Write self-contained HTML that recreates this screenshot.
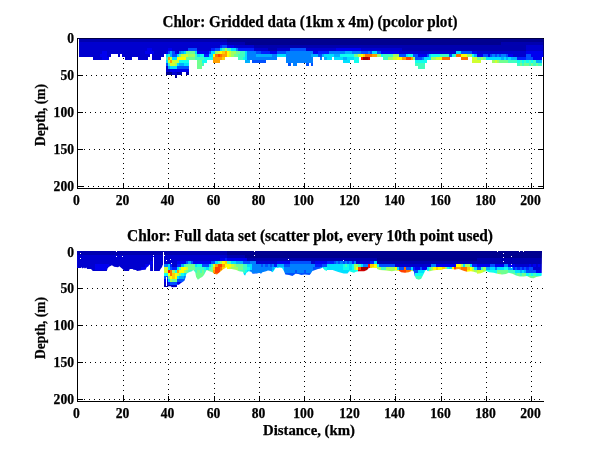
<!DOCTYPE html>
<html><head><meta charset="utf-8"><title>Chlor</title>
<style>
html,body{margin:0;padding:0;background:#fff}
svg{display:block}
text{font-family:"Liberation Serif",serif;font-weight:bold;fill:#000;stroke:#000;stroke-width:0.25px}
.t{font-size:13.6px}
.l{font-size:14.5px}
.yl{font-size:15.5px}
.h{font-size:16.2px}
.g{stroke:#000;stroke-width:1;stroke-dasharray:1 4;fill:none}
.ax{stroke:#000;stroke-width:1;fill:none}
</style></head><body>
<svg width="600" height="451" viewBox="0 0 600 451">
<rect width="600" height="451" fill="#fff"/>
<g shape-rendering="crispEdges">
<line x1="123.5" y1="38" x2="123.5" y2="188" class="g"/>
<line x1="168.5" y1="38" x2="168.5" y2="188" class="g"/>
<line x1="214.5" y1="38" x2="214.5" y2="188" class="g"/>
<line x1="259.5" y1="38" x2="259.5" y2="188" class="g"/>
<line x1="304.5" y1="38" x2="304.5" y2="188" class="g"/>
<line x1="350.5" y1="38" x2="350.5" y2="188" class="g"/>
<line x1="395.5" y1="38" x2="395.5" y2="188" class="g"/>
<line x1="441.5" y1="38" x2="441.5" y2="188" class="g"/>
<line x1="486.5" y1="38" x2="486.5" y2="188" class="g"/>
<line x1="531.5" y1="38" x2="531.5" y2="188" class="g"/>
<line x1="86" y1="75.5" x2="543.5" y2="75.5" class="g"/>
<line x1="85" y1="112.5" x2="543.5" y2="112.5" class="g"/>
<line x1="84" y1="149.5" x2="543.5" y2="149.5" class="g"/>
<line x1="83" y1="186.5" x2="543.5" y2="186.5" class="g"/>
<line x1="123.5" y1="255" x2="123.5" y2="401" class="g"/>
<line x1="168.5" y1="254" x2="168.5" y2="401" class="g"/>
<line x1="214.5" y1="253" x2="214.5" y2="401" class="g"/>
<line x1="259.5" y1="252" x2="259.5" y2="401" class="g"/>
<line x1="304.5" y1="251" x2="304.5" y2="401" class="g"/>
<line x1="350.5" y1="255" x2="350.5" y2="401" class="g"/>
<line x1="395.5" y1="254" x2="395.5" y2="401" class="g"/>
<line x1="441.5" y1="253" x2="441.5" y2="401" class="g"/>
<line x1="486.5" y1="252" x2="486.5" y2="401" class="g"/>
<line x1="531.5" y1="251" x2="531.5" y2="401" class="g"/>
<line x1="87" y1="288.5" x2="543.5" y2="288.5" class="g"/>
<line x1="86" y1="325.5" x2="543.5" y2="325.5" class="g"/>
<line x1="85" y1="362.5" x2="543.5" y2="362.5" class="g"/>
<line x1="84" y1="399.5" x2="543.5" y2="399.5" class="g"/>
</g>
<defs><filter id="sm" x="70" y="30" width="480" height="70" filterUnits="userSpaceOnUse" color-interpolation-filters="sRGB">
<feGaussianBlur stdDeviation="0.7" result="b"/>
<feComponentTransfer in="b" result="o"><feFuncA type="linear" slope="200"/></feComponentTransfer>
<feComposite in="o" in2="SourceAlpha" operator="in"/>
</filter>
<filter id="sm2" x="70" y="245" width="480" height="70" filterUnits="userSpaceOnUse" color-interpolation-filters="sRGB">
<feGaussianBlur stdDeviation="0.7" result="b"/>
<feComponentTransfer in="b" result="o"><feFuncA type="linear" slope="200"/></feComponentTransfer>
<feComposite in="o" in2="SourceAlpha" operator="in"/>
</filter></defs>
<g shape-rendering="crispEdges" id="p1" filter="url(#sm)">
<rect x="77.00" y="38.00" width="150.12" height="4.20" fill="#0000af"/>
<rect x="226.82" y="38.00" width="315.83" height="4.20" fill="#00008f"/>
<rect x="77.00" y="41.90" width="150.12" height="3.30" fill="#0000cf"/>
<rect x="226.82" y="41.90" width="18.46" height="3.30" fill="#0000af"/>
<rect x="244.98" y="41.90" width="256.81" height="3.30" fill="#00008f"/>
<rect x="501.49" y="41.90" width="41.16" height="3.30" fill="#0000af"/>
<rect x="77.00" y="44.90" width="143.31" height="3.20" fill="#0000cf"/>
<rect x="220.01" y="44.90" width="2.57" height="3.20" fill="#0020ff"/>
<rect x="222.28" y="44.90" width="4.84" height="3.20" fill="#0050ff"/>
<rect x="226.82" y="44.90" width="7.11" height="3.20" fill="#0000ef"/>
<rect x="233.63" y="44.90" width="20.73" height="3.20" fill="#0000cf"/>
<rect x="254.06" y="44.90" width="272.70" height="3.20" fill="#0000af"/>
<rect x="526.46" y="44.90" width="16.19" height="3.20" fill="#0000cf"/>
<rect x="77.00" y="47.80" width="70.67" height="3.30" fill="#0000cf"/>
<rect x="147.37" y="47.80" width="4.84" height="3.30" fill="#0000ef"/>
<rect x="151.91" y="47.80" width="16.19" height="3.30" fill="#0000cf"/>
<rect x="167.80" y="47.80" width="4.84" height="3.30" fill="#0000ef"/>
<rect x="172.34" y="47.80" width="16.19" height="3.30" fill="#0000cf"/>
<rect x="188.23" y="47.80" width="9.38" height="3.30" fill="#0050ff"/>
<rect x="197.31" y="47.80" width="13.92" height="3.30" fill="#0000cf"/>
<rect x="210.93" y="47.80" width="4.84" height="3.30" fill="#0020ff"/>
<rect x="215.47" y="47.80" width="4.84" height="3.30" fill="#0050ff"/>
<rect x="220.01" y="47.80" width="2.57" height="3.30" fill="#00e0ff"/>
<rect x="222.28" y="47.80" width="2.57" height="3.30" fill="#40ffbf"/>
<rect x="224.55" y="47.80" width="2.57" height="3.30" fill="#a0ff5f"/>
<rect x="226.82" y="47.80" width="4.84" height="3.30" fill="#40ffbf"/>
<rect x="231.36" y="47.80" width="4.84" height="3.30" fill="#00e0ff"/>
<rect x="235.90" y="47.80" width="2.57" height="3.30" fill="#0080ff"/>
<rect x="238.17" y="47.80" width="16.19" height="3.30" fill="#0020ff"/>
<rect x="254.06" y="47.80" width="13.92" height="3.30" fill="#0000cf"/>
<rect x="267.68" y="47.80" width="9.38" height="3.30" fill="#0000af"/>
<rect x="276.76" y="47.80" width="13.92" height="3.30" fill="#0000cf"/>
<rect x="290.38" y="47.80" width="16.19" height="3.30" fill="#0050ff"/>
<rect x="306.27" y="47.80" width="29.81" height="3.30" fill="#0000cf"/>
<rect x="335.78" y="47.80" width="25.27" height="3.30" fill="#0000ef"/>
<rect x="360.75" y="47.80" width="41.16" height="3.30" fill="#0000cf"/>
<rect x="401.61" y="47.80" width="125.15" height="3.30" fill="#0000af"/>
<rect x="526.46" y="47.80" width="16.19" height="3.30" fill="#0000cf"/>
<rect x="77.00" y="50.80" width="25.27" height="3.30" fill="#0000cf"/>
<rect x="101.97" y="50.80" width="4.84" height="3.30" fill="#0000ef"/>
<rect x="106.51" y="50.80" width="38.89" height="3.30" fill="#0000cf"/>
<rect x="145.10" y="50.80" width="9.38" height="3.30" fill="#0000ef"/>
<rect x="154.18" y="50.80" width="11.65" height="3.30" fill="#0000cf"/>
<rect x="165.53" y="50.80" width="2.57" height="3.30" fill="#0000ef"/>
<rect x="167.80" y="50.80" width="2.57" height="3.30" fill="#0050ff"/>
<rect x="170.07" y="50.80" width="2.57" height="3.30" fill="#00b0ff"/>
<rect x="172.34" y="50.80" width="2.57" height="3.30" fill="#0050ff"/>
<rect x="174.61" y="50.80" width="2.57" height="3.30" fill="#0000ef"/>
<rect x="176.88" y="50.80" width="2.57" height="3.30" fill="#0000cf"/>
<rect x="179.15" y="50.80" width="2.57" height="3.30" fill="#0080ff"/>
<rect x="181.42" y="50.80" width="2.57" height="3.30" fill="#00b0ff"/>
<rect x="183.69" y="50.80" width="2.57" height="3.30" fill="#00e0ff"/>
<rect x="185.96" y="50.80" width="9.38" height="3.30" fill="#70ff8f"/>
<rect x="195.04" y="50.80" width="2.57" height="3.30" fill="#00e0ff"/>
<rect x="197.31" y="50.80" width="11.65" height="3.30" fill="#0000ef"/>
<rect x="208.66" y="50.80" width="2.57" height="3.30" fill="#0050ff"/>
<rect x="210.93" y="50.80" width="4.84" height="3.30" fill="#00e0ff"/>
<rect x="215.47" y="50.80" width="2.57" height="3.30" fill="#a0ff5f"/>
<rect x="217.74" y="50.80" width="2.57" height="3.30" fill="#d0ff2f"/>
<rect x="220.01" y="50.80" width="2.57" height="3.30" fill="#ffff00"/>
<rect x="222.28" y="50.80" width="2.57" height="3.30" fill="#ffd000"/>
<rect x="224.55" y="50.80" width="2.57" height="3.30" fill="#ffa000"/>
<rect x="226.82" y="50.80" width="2.57" height="3.30" fill="#ffff00"/>
<rect x="229.09" y="50.80" width="2.57" height="3.30" fill="#d0ff2f"/>
<rect x="231.36" y="50.80" width="4.84" height="3.30" fill="#a0ff5f"/>
<rect x="235.90" y="50.80" width="4.84" height="3.30" fill="#70ff8f"/>
<rect x="240.44" y="50.80" width="4.84" height="3.30" fill="#40ffbf"/>
<rect x="244.98" y="50.80" width="2.57" height="3.30" fill="#00e0ff"/>
<rect x="247.25" y="50.80" width="9.38" height="3.30" fill="#0080ff"/>
<rect x="256.33" y="50.80" width="4.84" height="3.30" fill="#0050ff"/>
<rect x="260.87" y="50.80" width="9.38" height="3.30" fill="#0020ff"/>
<rect x="269.95" y="50.80" width="7.11" height="3.30" fill="#0000ef"/>
<rect x="276.76" y="50.80" width="9.38" height="3.30" fill="#0050ff"/>
<rect x="285.84" y="50.80" width="27.54" height="3.30" fill="#0080ff"/>
<rect x="313.08" y="50.80" width="4.84" height="3.30" fill="#0000ef"/>
<rect x="317.62" y="50.80" width="11.65" height="3.30" fill="#0020ff"/>
<rect x="328.97" y="50.80" width="16.19" height="3.30" fill="#0080ff"/>
<rect x="344.86" y="50.80" width="7.11" height="3.30" fill="#00b0ff"/>
<rect x="351.67" y="50.80" width="9.38" height="3.30" fill="#0080ff"/>
<rect x="360.75" y="50.80" width="7.11" height="3.30" fill="#0050ff"/>
<rect x="367.56" y="50.80" width="2.57" height="3.30" fill="#0080ff"/>
<rect x="369.83" y="50.80" width="2.57" height="3.30" fill="#0050ff"/>
<rect x="372.10" y="50.80" width="4.84" height="3.30" fill="#00e0ff"/>
<rect x="376.64" y="50.80" width="4.84" height="3.30" fill="#0050ff"/>
<rect x="381.18" y="50.80" width="18.46" height="3.30" fill="#0000ef"/>
<rect x="399.34" y="50.80" width="57.05" height="3.30" fill="#0000cf"/>
<rect x="456.09" y="50.80" width="4.84" height="3.30" fill="#00e0ff"/>
<rect x="460.63" y="50.80" width="11.65" height="3.30" fill="#0050ff"/>
<rect x="471.98" y="50.80" width="4.84" height="3.30" fill="#0000ef"/>
<rect x="476.52" y="50.80" width="50.24" height="3.30" fill="#0000cf"/>
<rect x="526.46" y="50.80" width="16.19" height="3.30" fill="#0000ef"/>
<rect x="77.00" y="53.80" width="23.00" height="3.20" fill="#0000cf"/>
<rect x="99.70" y="53.80" width="7.11" height="3.20" fill="#0000ef"/>
<rect x="106.51" y="53.80" width="4.84" height="3.20" fill="#0000cf"/>
<rect x="117.86" y="53.80" width="2.57" height="3.20" fill="#0000cf"/>
<rect x="122.40" y="53.80" width="27.54" height="3.20" fill="#0000cf"/>
<rect x="151.91" y="53.80" width="11.65" height="3.20" fill="#0000cf"/>
<rect x="165.53" y="53.80" width="2.57" height="3.20" fill="#00e0ff"/>
<rect x="167.80" y="53.80" width="2.57" height="3.20" fill="#40ffbf"/>
<rect x="170.07" y="53.80" width="2.57" height="3.20" fill="#00b0ff"/>
<rect x="172.34" y="53.80" width="4.84" height="3.20" fill="#0050ff"/>
<rect x="176.88" y="53.80" width="2.57" height="3.20" fill="#00e0ff"/>
<rect x="179.15" y="53.80" width="2.57" height="3.20" fill="#70ff8f"/>
<rect x="181.42" y="53.80" width="7.11" height="3.20" fill="#d0ff2f"/>
<rect x="188.23" y="53.80" width="7.11" height="3.20" fill="#a0ff5f"/>
<rect x="195.04" y="53.80" width="2.57" height="3.20" fill="#40ffbf"/>
<rect x="197.31" y="53.80" width="2.57" height="3.20" fill="#00e0ff"/>
<rect x="199.58" y="53.80" width="4.84" height="3.20" fill="#10ffef"/>
<rect x="204.12" y="53.80" width="4.84" height="3.20" fill="#0020ff"/>
<rect x="208.66" y="53.80" width="4.84" height="3.20" fill="#00e0ff"/>
<rect x="213.20" y="53.80" width="2.57" height="3.20" fill="#ffff00"/>
<rect x="215.47" y="53.80" width="2.57" height="3.20" fill="#ff7000"/>
<rect x="217.74" y="53.80" width="2.57" height="3.20" fill="#ff4000"/>
<rect x="220.01" y="53.80" width="2.57" height="3.20" fill="#ff7000"/>
<rect x="222.28" y="53.80" width="4.84" height="3.20" fill="#ffa000"/>
<rect x="226.82" y="53.80" width="2.57" height="3.20" fill="#ffff00"/>
<rect x="229.09" y="53.80" width="2.57" height="3.20" fill="#d0ff2f"/>
<rect x="231.36" y="53.80" width="2.57" height="3.20" fill="#a0ff5f"/>
<rect x="233.63" y="53.80" width="4.84" height="3.20" fill="#70ff8f"/>
<rect x="238.17" y="53.80" width="7.11" height="3.20" fill="#40ffbf"/>
<rect x="244.98" y="53.80" width="2.57" height="3.20" fill="#00e0ff"/>
<rect x="247.25" y="53.80" width="9.38" height="3.20" fill="#0080ff"/>
<rect x="256.33" y="53.80" width="16.19" height="3.20" fill="#00b0ff"/>
<rect x="272.22" y="53.80" width="4.84" height="3.20" fill="#0080ff"/>
<rect x="276.76" y="53.80" width="9.38" height="3.20" fill="#00e0ff"/>
<rect x="285.84" y="53.80" width="25.27" height="3.20" fill="#0080ff"/>
<rect x="310.81" y="53.80" width="7.11" height="3.20" fill="#00b0ff"/>
<rect x="317.62" y="53.80" width="4.84" height="3.20" fill="#0050ff"/>
<rect x="322.16" y="53.80" width="2.57" height="3.20" fill="#00b0ff"/>
<rect x="324.43" y="53.80" width="9.38" height="3.20" fill="#00e0ff"/>
<rect x="333.51" y="53.80" width="7.11" height="3.20" fill="#00b0ff"/>
<rect x="340.32" y="53.80" width="13.92" height="3.20" fill="#10ffef"/>
<rect x="353.94" y="53.80" width="4.84" height="3.20" fill="#70ff8f"/>
<rect x="358.48" y="53.80" width="2.57" height="3.20" fill="#d0ff2f"/>
<rect x="360.75" y="53.80" width="2.57" height="3.20" fill="#ffff00"/>
<rect x="363.02" y="53.80" width="2.57" height="3.20" fill="#ffd000"/>
<rect x="365.29" y="53.80" width="7.11" height="3.20" fill="#ff7000"/>
<rect x="372.10" y="53.80" width="4.84" height="3.20" fill="#ffa000"/>
<rect x="376.64" y="53.80" width="4.84" height="3.20" fill="#a0ff5f"/>
<rect x="381.18" y="53.80" width="2.57" height="3.20" fill="#10ffef"/>
<rect x="383.45" y="53.80" width="9.38" height="3.20" fill="#40ffbf"/>
<rect x="392.53" y="53.80" width="7.11" height="3.20" fill="#a0ff5f"/>
<rect x="399.34" y="53.80" width="7.11" height="3.20" fill="#0050ff"/>
<rect x="406.15" y="53.80" width="2.57" height="3.20" fill="#00e0ff"/>
<rect x="408.42" y="53.80" width="4.84" height="3.20" fill="#10ffef"/>
<rect x="412.96" y="53.80" width="4.84" height="3.20" fill="#0050ff"/>
<rect x="417.50" y="53.80" width="9.38" height="3.20" fill="#0000ef"/>
<rect x="426.58" y="53.80" width="2.57" height="3.20" fill="#0050ff"/>
<rect x="428.85" y="53.80" width="2.57" height="3.20" fill="#00e0ff"/>
<rect x="431.12" y="53.80" width="9.38" height="3.20" fill="#10ffef"/>
<rect x="440.20" y="53.80" width="9.38" height="3.20" fill="#40ffbf"/>
<rect x="449.28" y="53.80" width="2.57" height="3.20" fill="#0050ff"/>
<rect x="451.55" y="53.80" width="2.57" height="3.20" fill="#10ffef"/>
<rect x="453.82" y="53.80" width="2.57" height="3.20" fill="#40ffbf"/>
<rect x="456.09" y="53.80" width="4.84" height="3.20" fill="#ff7000"/>
<rect x="460.63" y="53.80" width="7.11" height="3.20" fill="#ffff00"/>
<rect x="467.44" y="53.80" width="4.84" height="3.20" fill="#a0ff5f"/>
<rect x="471.98" y="53.80" width="2.57" height="3.20" fill="#10ffef"/>
<rect x="474.25" y="53.80" width="2.57" height="3.20" fill="#00b0ff"/>
<rect x="476.52" y="53.80" width="7.11" height="3.20" fill="#0000ef"/>
<rect x="483.33" y="53.80" width="4.84" height="3.20" fill="#0050ff"/>
<rect x="487.87" y="53.80" width="2.57" height="3.20" fill="#0000ef"/>
<rect x="490.14" y="53.80" width="2.57" height="3.20" fill="#0050ff"/>
<rect x="492.41" y="53.80" width="2.57" height="3.20" fill="#0080ff"/>
<rect x="494.68" y="53.80" width="2.57" height="3.20" fill="#0050ff"/>
<rect x="496.95" y="53.80" width="2.57" height="3.20" fill="#0080ff"/>
<rect x="499.22" y="53.80" width="2.57" height="3.20" fill="#0050ff"/>
<rect x="501.49" y="53.80" width="4.84" height="3.20" fill="#0080ff"/>
<rect x="506.03" y="53.80" width="2.57" height="3.20" fill="#0050ff"/>
<rect x="508.30" y="53.80" width="4.84" height="3.20" fill="#0000ef"/>
<rect x="512.84" y="53.80" width="13.92" height="3.20" fill="#0000cf"/>
<rect x="526.46" y="53.80" width="4.84" height="3.20" fill="#0050ff"/>
<rect x="531.00" y="53.80" width="11.65" height="3.20" fill="#0000ef"/>
<rect x="92.89" y="56.70" width="9.38" height="3.30" fill="#0000cf"/>
<rect x="101.97" y="56.70" width="7.11" height="3.30" fill="#0000ef"/>
<rect x="124.67" y="56.70" width="7.11" height="3.30" fill="#0000cf"/>
<rect x="138.29" y="56.70" width="9.38" height="3.30" fill="#0000cf"/>
<rect x="151.91" y="56.70" width="9.38" height="3.30" fill="#0000cf"/>
<rect x="165.53" y="56.70" width="2.57" height="3.30" fill="#40ffbf"/>
<rect x="167.80" y="56.70" width="2.57" height="3.30" fill="#ffa000"/>
<rect x="170.07" y="56.70" width="2.57" height="3.30" fill="#d0ff2f"/>
<rect x="172.34" y="56.70" width="4.84" height="3.30" fill="#00e0ff"/>
<rect x="176.88" y="56.70" width="9.38" height="3.30" fill="#ffff00"/>
<rect x="185.96" y="56.70" width="9.38" height="3.30" fill="#70ff8f"/>
<rect x="195.04" y="56.70" width="9.38" height="3.30" fill="#40ffbf"/>
<rect x="204.12" y="56.70" width="9.38" height="3.30" fill="#10ffef"/>
<rect x="213.20" y="56.70" width="9.38" height="3.30" fill="#ffa000"/>
<rect x="222.28" y="56.70" width="2.57" height="3.30" fill="#ffd000"/>
<rect x="238.17" y="56.70" width="4.84" height="3.30" fill="#40ffbf"/>
<rect x="242.71" y="56.70" width="2.57" height="3.30" fill="#10ffef"/>
<rect x="244.98" y="56.70" width="2.57" height="3.30" fill="#00e0ff"/>
<rect x="247.25" y="56.70" width="29.81" height="3.30" fill="#0080ff"/>
<rect x="285.84" y="56.70" width="27.54" height="3.30" fill="#0080ff"/>
<rect x="319.89" y="56.70" width="2.57" height="3.30" fill="#0080ff"/>
<rect x="324.43" y="56.70" width="2.57" height="3.30" fill="#00b0ff"/>
<rect x="326.70" y="56.70" width="4.84" height="3.30" fill="#00e0ff"/>
<rect x="333.51" y="56.70" width="9.38" height="3.30" fill="#00e0ff"/>
<rect x="342.59" y="56.70" width="4.84" height="3.30" fill="#00b0ff"/>
<rect x="347.13" y="56.70" width="7.11" height="3.30" fill="#00e0ff"/>
<rect x="353.94" y="56.70" width="4.84" height="3.30" fill="#10ffef"/>
<rect x="360.75" y="56.70" width="2.57" height="3.30" fill="#ff1000"/>
<rect x="363.02" y="56.70" width="4.84" height="3.30" fill="#9f0000"/>
<rect x="367.56" y="56.70" width="2.57" height="3.30" fill="#cf0000"/>
<rect x="383.45" y="56.70" width="4.84" height="3.30" fill="#40ffbf"/>
<rect x="387.99" y="56.70" width="4.84" height="3.30" fill="#a0ff5f"/>
<rect x="392.53" y="56.70" width="4.84" height="3.30" fill="#d0ff2f"/>
<rect x="397.07" y="56.70" width="4.84" height="3.30" fill="#ffff00"/>
<rect x="401.61" y="56.70" width="4.84" height="3.30" fill="#ffa000"/>
<rect x="406.15" y="56.70" width="4.84" height="3.30" fill="#ff4000"/>
<rect x="410.69" y="56.70" width="2.57" height="3.30" fill="#ffa000"/>
<rect x="412.96" y="56.70" width="2.57" height="3.30" fill="#a0ff5f"/>
<rect x="415.23" y="56.70" width="7.11" height="3.30" fill="#0050ff"/>
<rect x="422.04" y="56.70" width="2.57" height="3.30" fill="#0080ff"/>
<rect x="424.31" y="56.70" width="7.11" height="3.30" fill="#00e0ff"/>
<rect x="431.12" y="56.70" width="4.84" height="3.30" fill="#a0ff5f"/>
<rect x="435.66" y="56.70" width="4.84" height="3.30" fill="#d0ff2f"/>
<rect x="440.20" y="56.70" width="2.57" height="3.30" fill="#ffff00"/>
<rect x="442.47" y="56.70" width="7.11" height="3.30" fill="#ff7000"/>
<rect x="460.63" y="56.70" width="7.11" height="3.30" fill="#ff7000"/>
<rect x="471.98" y="56.70" width="4.84" height="3.30" fill="#d0ff2f"/>
<rect x="476.52" y="56.70" width="4.84" height="3.30" fill="#70ff8f"/>
<rect x="481.06" y="56.70" width="2.57" height="3.30" fill="#a0ff5f"/>
<rect x="483.33" y="56.70" width="2.57" height="3.30" fill="#70ff8f"/>
<rect x="485.60" y="56.70" width="16.19" height="3.30" fill="#00e0ff"/>
<rect x="501.49" y="56.70" width="2.57" height="3.30" fill="#00b0ff"/>
<rect x="503.76" y="56.70" width="2.57" height="3.30" fill="#00e0ff"/>
<rect x="506.03" y="56.70" width="2.57" height="3.30" fill="#00b0ff"/>
<rect x="508.30" y="56.70" width="2.57" height="3.30" fill="#00e0ff"/>
<rect x="510.57" y="56.70" width="7.11" height="3.30" fill="#00b0ff"/>
<rect x="517.38" y="56.70" width="9.38" height="3.30" fill="#0020ff"/>
<rect x="526.46" y="56.70" width="7.11" height="3.30" fill="#0050ff"/>
<rect x="533.27" y="56.70" width="9.38" height="3.30" fill="#0000ef"/>
<rect x="165.53" y="59.70" width="2.57" height="3.20" fill="#00e0ff"/>
<rect x="167.80" y="59.70" width="2.57" height="3.20" fill="#d0ff2f"/>
<rect x="170.07" y="59.70" width="2.57" height="3.20" fill="#ffa000"/>
<rect x="172.34" y="59.70" width="7.11" height="3.20" fill="#d0ff2f"/>
<rect x="179.15" y="59.70" width="9.38" height="3.20" fill="#10ffef"/>
<rect x="197.31" y="59.70" width="4.84" height="3.20" fill="#70ff8f"/>
<rect x="201.85" y="59.70" width="4.84" height="3.20" fill="#10ffef"/>
<rect x="213.20" y="59.70" width="7.11" height="3.20" fill="#ffa000"/>
<rect x="244.98" y="59.70" width="4.84" height="3.20" fill="#00b0ff"/>
<rect x="251.79" y="59.70" width="13.92" height="3.20" fill="#0050ff"/>
<rect x="285.84" y="59.70" width="27.54" height="3.20" fill="#0080ff"/>
<rect x="342.59" y="59.70" width="7.11" height="3.20" fill="#00e0ff"/>
<rect x="353.94" y="59.70" width="4.84" height="3.20" fill="#10ffef"/>
<rect x="415.23" y="59.70" width="11.65" height="3.20" fill="#10ffef"/>
<rect x="471.98" y="59.70" width="9.38" height="3.20" fill="#d0ff2f"/>
<rect x="492.41" y="59.70" width="2.57" height="3.20" fill="#a0ff5f"/>
<rect x="494.68" y="59.70" width="2.57" height="3.20" fill="#d0ff2f"/>
<rect x="496.95" y="59.70" width="2.57" height="3.20" fill="#a0ff5f"/>
<rect x="499.22" y="59.70" width="9.38" height="3.20" fill="#70ff8f"/>
<rect x="508.30" y="59.70" width="9.38" height="3.20" fill="#40ffbf"/>
<rect x="517.38" y="59.70" width="2.57" height="3.20" fill="#10ffef"/>
<rect x="519.65" y="59.70" width="2.57" height="3.20" fill="#40ffbf"/>
<rect x="521.92" y="59.70" width="2.57" height="3.20" fill="#10ffef"/>
<rect x="524.19" y="59.70" width="2.57" height="3.20" fill="#40ffbf"/>
<rect x="526.46" y="59.70" width="2.57" height="3.20" fill="#10ffef"/>
<rect x="528.73" y="59.70" width="2.57" height="3.20" fill="#40ffbf"/>
<rect x="531.00" y="59.70" width="2.57" height="3.20" fill="#10ffef"/>
<rect x="533.27" y="59.70" width="2.57" height="3.20" fill="#40ffbf"/>
<rect x="535.54" y="59.70" width="7.11" height="3.20" fill="#00b0ff"/>
<rect x="165.53" y="62.60" width="2.57" height="3.30" fill="#0050ff"/>
<rect x="167.80" y="62.60" width="2.57" height="3.30" fill="#40ffbf"/>
<rect x="170.07" y="62.60" width="4.84" height="3.30" fill="#d0ff2f"/>
<rect x="174.61" y="62.60" width="2.57" height="3.30" fill="#a0ff5f"/>
<rect x="176.88" y="62.60" width="2.57" height="3.30" fill="#00e0ff"/>
<rect x="179.15" y="62.60" width="4.84" height="3.30" fill="#00b0ff"/>
<rect x="183.69" y="62.60" width="4.84" height="3.30" fill="#00e0ff"/>
<rect x="197.31" y="62.60" width="4.84" height="3.30" fill="#70ff8f"/>
<rect x="201.85" y="62.60" width="2.57" height="3.30" fill="#40ffbf"/>
<rect x="288.11" y="62.60" width="2.57" height="3.30" fill="#0050ff"/>
<rect x="292.65" y="62.60" width="4.84" height="3.30" fill="#0080ff"/>
<rect x="306.27" y="62.60" width="2.57" height="3.30" fill="#0050ff"/>
<rect x="310.81" y="62.60" width="2.57" height="3.30" fill="#0050ff"/>
<rect x="415.23" y="62.60" width="9.38" height="3.30" fill="#40ffbf"/>
<rect x="517.38" y="62.60" width="2.57" height="3.30" fill="#40ffbf"/>
<rect x="519.65" y="62.60" width="2.57" height="3.30" fill="#70ff8f"/>
<rect x="521.92" y="62.60" width="2.57" height="3.30" fill="#40ffbf"/>
<rect x="524.19" y="62.60" width="4.84" height="3.30" fill="#70ff8f"/>
<rect x="528.73" y="62.60" width="2.57" height="3.30" fill="#40ffbf"/>
<rect x="531.00" y="62.60" width="2.57" height="3.30" fill="#70ff8f"/>
<rect x="533.27" y="62.60" width="2.57" height="3.30" fill="#40ffbf"/>
<rect x="535.54" y="62.60" width="2.57" height="3.30" fill="#70ff8f"/>
<rect x="537.81" y="62.60" width="4.84" height="3.30" fill="#40ffbf"/>
<rect x="165.53" y="65.60" width="2.57" height="3.30" fill="#0000cf"/>
<rect x="167.80" y="65.60" width="2.57" height="3.30" fill="#00b0ff"/>
<rect x="170.07" y="65.60" width="7.11" height="3.30" fill="#00e0ff"/>
<rect x="176.88" y="65.60" width="11.65" height="3.30" fill="#0050ff"/>
<rect x="197.31" y="65.60" width="4.84" height="3.30" fill="#70ff8f"/>
<rect x="417.50" y="65.60" width="7.11" height="3.30" fill="#40ffbf"/>
<rect x="165.53" y="68.60" width="4.84" height="3.20" fill="#0000cf"/>
<rect x="170.07" y="68.60" width="18.46" height="3.20" fill="#0000ef"/>
<rect x="165.53" y="71.50" width="7.11" height="3.30" fill="#00008f"/>
<rect x="172.34" y="71.50" width="4.84" height="3.30" fill="#0000cf"/>
<rect x="176.88" y="71.50" width="4.84" height="3.30" fill="#0000af"/>
<rect x="185.96" y="71.50" width="2.57" height="3.30" fill="#0000af"/>
<rect x="174.61" y="74.50" width="2.57" height="3.20" fill="#00008f"/>
</g>
<clipPath id="c2"><path d="M77 251 H542 L541.7 275.5 L541.0 276.0 L536.3 276.9 L533.5 278.3 L530.7 277.9 L527.0 276.0 L527.0 276.0 L523.6 276.5 L519.8 276.5 L516.1 275.5 L512.4 273.7 L508.7 272.7 L505.9 274.1 L502.1 274.6 L498.4 274.1 L493.8 272.7 L489.1 272.3 L486.3 270.9 L484.4 271.8 L480.7 273.2 L477.0 273.7 L477.0 272.7 L473.6 271.8 L470.8 271.3 L467.0 271.8 L464.2 270.9 L461.5 269.9 L458.7 269.0 L454.9 269.5 L451.2 269.0 L447.5 269.0 L443.8 269.0 L441.0 269.9 L436.3 269.9 L432.6 270.4 L429.8 271.3 L427.0 270.9 L427.0 269.5 L425.4 270.4 L424.0 273.2 L422.6 276.0 L421.2 278.8 L418.9 279.7 L416.1 278.8 L414.7 276.0 L413.8 271.3 L411.5 270.9 L408.7 272.3 L404.9 272.7 L401.2 272.3 L399.3 270.9 L395.6 270.6 L391.9 271.3 L386.3 270.6 L379.8 269.9 L377.0 269.0 L377.0 268.1 L372.6 268.1 L368.9 268.1 L367.0 269.9 L364.2 271.3 L358.7 271.3 L355.9 271.8 L354.0 272.7 L352.1 272.3 L349.3 271.3 L347.5 273.4 L343.8 273.4 L339.1 272.3 L335.4 270.9 L332.6 269.9 L327.0 269.9 L327.0 270.9 L324.5 269.9 L322.6 267.6 L320.8 268.6 L318.0 269.0 L315.2 269.9 L312.4 270.9 L311.0 273.2 L309.6 275.1 L304.9 274.6 L301.2 275.1 L298.4 274.1 L295.6 273.7 L293.8 275.1 L292.4 276.0 L289.1 275.1 L285.4 274.6 L284.0 271.3 L282.1 268.1 L279.8 267.6 L277.0 268.1 L277.0 267.6 L275.4 268.1 L274.0 270.4 L272.6 272.3 L270.8 270.9 L268.0 270.4 L266.1 271.3 L262.4 272.3 L261.0 273.7 L259.6 272.7 L256.8 273.4 L252.6 273.7 L251.2 271.8 L248.4 271.3 L246.1 273.2 L245.2 275.5 L244.2 275.1 L242.8 271.8 L239.1 271.3 L236.3 269.9 L231.7 269.0 L227.0 269.0 L227.0 267.2 L223.6 269.0 L220.8 271.3 L218.4 273.2 L217.0 274.6 L214.2 273.7 L212.4 272.3 L208.7 270.9 L206.8 269.9 L205.4 272.3 L204.0 275.1 L202.1 276.9 L200.3 277.9 L197.9 279.7 L196.1 276.9 L195.2 272.3 L193.3 269.9 L191.9 271.3 L189.1 272.3 L186.3 273.7 L185.8 276.9 L184.4 280.7 L182.6 282.1 L180.3 283.5 L178.9 284.8 L177.0 284.8 L177.0 287.0 L171.7 287.2 L170.8 286.2 L168.4 286.2 L168.0 287.0 L163.6 287.0 L163.5 264.8 L162.8 264.8 L161.9 267.2 L160.5 269.0 L159.6 270.9 L150.1 270.9 L150.0 264.8 L149.3 264.8 L148.4 266.2 L146.6 267.6 L145.6 269.7 L141.9 269.9 L140.5 270.6 L137.2 270.9 L135.8 269.9 L133.5 269.7 L132.6 269.0 L129.8 269.0 L128.9 270.9 L127.0 270.9 L127.0 270.9 L124.5 270.9 L122.6 269.0 L120.8 267.6 L119.4 266.2 L118.0 267.2 L114.2 266.7 L111.9 265.3 L109.1 266.7 L107.7 268.1 L106.8 270.9 L92.8 270.9 L91.0 269.0 L87.2 269.0 L86.3 267.6 L84.9 268.6 L84.0 267.4 L82.6 268.6 L81.7 267.2 L80.7 268.1 L77.0 268.1 Z"/></clipPath>
<g id="p2" clip-path="url(#c2)">
<g shape-rendering="crispEdges" filter="url(#sm2)">
<rect x="77.00" y="251.00" width="150.12" height="4.20" fill="#0000af"/>
<rect x="226.82" y="251.00" width="315.83" height="4.20" fill="#00008f"/>
<rect x="77.00" y="254.90" width="150.12" height="3.30" fill="#0000cf"/>
<rect x="226.82" y="254.90" width="18.46" height="3.30" fill="#0000af"/>
<rect x="244.98" y="254.90" width="297.67" height="3.30" fill="#00008f"/>
<rect x="77.00" y="257.90" width="143.31" height="3.20" fill="#0000cf"/>
<rect x="220.01" y="257.90" width="4.84" height="3.20" fill="#0000ef"/>
<rect x="224.55" y="257.90" width="2.57" height="3.20" fill="#0020ff"/>
<rect x="226.82" y="257.90" width="20.73" height="3.20" fill="#0000ef"/>
<rect x="247.25" y="257.90" width="129.69" height="3.20" fill="#0000af"/>
<rect x="376.64" y="257.90" width="100.18" height="3.20" fill="#00008f"/>
<rect x="476.52" y="257.90" width="66.13" height="3.20" fill="#0000af"/>
<rect x="77.00" y="260.80" width="72.94" height="3.30" fill="#0000cf"/>
<rect x="149.64" y="260.80" width="4.84" height="3.30" fill="#0000ef"/>
<rect x="154.18" y="260.80" width="23.00" height="3.30" fill="#0000cf"/>
<rect x="176.88" y="260.80" width="9.38" height="3.30" fill="#0000ef"/>
<rect x="185.96" y="260.80" width="2.57" height="3.30" fill="#0050ff"/>
<rect x="188.23" y="260.80" width="2.57" height="3.30" fill="#00b0ff"/>
<rect x="190.50" y="260.80" width="2.57" height="3.30" fill="#0050ff"/>
<rect x="192.77" y="260.80" width="18.46" height="3.30" fill="#0000ef"/>
<rect x="210.93" y="260.80" width="4.84" height="3.30" fill="#0050ff"/>
<rect x="215.47" y="260.80" width="2.57" height="3.30" fill="#00e0ff"/>
<rect x="217.74" y="260.80" width="2.57" height="3.30" fill="#40ffbf"/>
<rect x="220.01" y="260.80" width="2.57" height="3.30" fill="#a0ff5f"/>
<rect x="222.28" y="260.80" width="2.57" height="3.30" fill="#ffff00"/>
<rect x="224.55" y="260.80" width="2.57" height="3.30" fill="#ffd000"/>
<rect x="226.82" y="260.80" width="4.84" height="3.30" fill="#40ffbf"/>
<rect x="231.36" y="260.80" width="4.84" height="3.30" fill="#00e0ff"/>
<rect x="235.90" y="260.80" width="7.11" height="3.30" fill="#00b0ff"/>
<rect x="242.71" y="260.80" width="7.11" height="3.30" fill="#0050ff"/>
<rect x="249.52" y="260.80" width="7.11" height="3.30" fill="#0080ff"/>
<rect x="256.33" y="260.80" width="20.73" height="3.30" fill="#0000cf"/>
<rect x="276.76" y="260.80" width="13.92" height="3.30" fill="#0000ef"/>
<rect x="290.38" y="260.80" width="20.73" height="3.30" fill="#0050ff"/>
<rect x="310.81" y="260.80" width="4.84" height="3.30" fill="#0000cf"/>
<rect x="315.35" y="260.80" width="11.65" height="3.30" fill="#0000ef"/>
<rect x="326.70" y="260.80" width="7.11" height="3.30" fill="#0020ff"/>
<rect x="333.51" y="260.80" width="2.57" height="3.30" fill="#0050ff"/>
<rect x="335.78" y="260.80" width="2.57" height="3.30" fill="#0080ff"/>
<rect x="338.05" y="260.80" width="2.57" height="3.30" fill="#0050ff"/>
<rect x="340.32" y="260.80" width="2.57" height="3.30" fill="#0080ff"/>
<rect x="342.59" y="260.80" width="2.57" height="3.30" fill="#0050ff"/>
<rect x="344.86" y="260.80" width="2.57" height="3.30" fill="#0080ff"/>
<rect x="347.13" y="260.80" width="2.57" height="3.30" fill="#0050ff"/>
<rect x="349.40" y="260.80" width="2.57" height="3.30" fill="#0080ff"/>
<rect x="351.67" y="260.80" width="2.57" height="3.30" fill="#0020ff"/>
<rect x="353.94" y="260.80" width="2.57" height="3.30" fill="#0080ff"/>
<rect x="356.21" y="260.80" width="13.92" height="3.30" fill="#0000cf"/>
<rect x="369.83" y="260.80" width="4.84" height="3.30" fill="#0020ff"/>
<rect x="374.37" y="260.80" width="2.57" height="3.30" fill="#00e0ff"/>
<rect x="376.64" y="260.80" width="166.01" height="3.30" fill="#0000af"/>
<rect x="77.00" y="263.80" width="18.46" height="3.30" fill="#0000cf"/>
<rect x="95.16" y="263.80" width="13.92" height="3.30" fill="#0000ef"/>
<rect x="108.78" y="263.80" width="36.62" height="3.30" fill="#0000cf"/>
<rect x="145.10" y="263.80" width="7.11" height="3.30" fill="#0000ef"/>
<rect x="151.91" y="263.80" width="11.65" height="3.30" fill="#0000cf"/>
<rect x="163.26" y="263.80" width="4.84" height="3.30" fill="#0080ff"/>
<rect x="167.80" y="263.80" width="2.57" height="3.30" fill="#00e0ff"/>
<rect x="170.07" y="263.80" width="2.57" height="3.30" fill="#0020ff"/>
<rect x="172.34" y="263.80" width="4.84" height="3.30" fill="#0000cf"/>
<rect x="176.88" y="263.80" width="4.84" height="3.30" fill="#0020ff"/>
<rect x="181.42" y="263.80" width="2.57" height="3.30" fill="#00b0ff"/>
<rect x="183.69" y="263.80" width="2.57" height="3.30" fill="#40ffbf"/>
<rect x="185.96" y="263.80" width="9.38" height="3.30" fill="#70ff8f"/>
<rect x="195.04" y="263.80" width="2.57" height="3.30" fill="#00e0ff"/>
<rect x="197.31" y="263.80" width="4.84" height="3.30" fill="#10ffef"/>
<rect x="201.85" y="263.80" width="7.11" height="3.30" fill="#0050ff"/>
<rect x="208.66" y="263.80" width="2.57" height="3.30" fill="#00e0ff"/>
<rect x="210.93" y="263.80" width="2.57" height="3.30" fill="#40ffbf"/>
<rect x="213.20" y="263.80" width="2.57" height="3.30" fill="#d0ff2f"/>
<rect x="215.47" y="263.80" width="2.57" height="3.30" fill="#ffa000"/>
<rect x="217.74" y="263.80" width="4.84" height="3.30" fill="#ff4000"/>
<rect x="222.28" y="263.80" width="2.57" height="3.30" fill="#ffa000"/>
<rect x="224.55" y="263.80" width="7.11" height="3.30" fill="#ffff00"/>
<rect x="231.36" y="263.80" width="2.57" height="3.30" fill="#d0ff2f"/>
<rect x="233.63" y="263.80" width="2.57" height="3.30" fill="#a0ff5f"/>
<rect x="235.90" y="263.80" width="7.11" height="3.30" fill="#70ff8f"/>
<rect x="242.71" y="263.80" width="4.84" height="3.30" fill="#40ffbf"/>
<rect x="247.25" y="263.80" width="4.84" height="3.30" fill="#00e0ff"/>
<rect x="251.79" y="263.80" width="9.38" height="3.30" fill="#0080ff"/>
<rect x="260.87" y="263.80" width="2.57" height="3.30" fill="#0050ff"/>
<rect x="263.14" y="263.80" width="2.57" height="3.30" fill="#0080ff"/>
<rect x="265.41" y="263.80" width="2.57" height="3.30" fill="#0050ff"/>
<rect x="267.68" y="263.80" width="2.57" height="3.30" fill="#0080ff"/>
<rect x="269.95" y="263.80" width="2.57" height="3.30" fill="#0050ff"/>
<rect x="272.22" y="263.80" width="2.57" height="3.30" fill="#0080ff"/>
<rect x="274.49" y="263.80" width="2.57" height="3.30" fill="#0020ff"/>
<rect x="276.76" y="263.80" width="7.11" height="3.30" fill="#00b0ff"/>
<rect x="283.57" y="263.80" width="7.11" height="3.30" fill="#0050ff"/>
<rect x="290.38" y="263.80" width="25.27" height="3.30" fill="#0080ff"/>
<rect x="315.35" y="263.80" width="7.11" height="3.30" fill="#0020ff"/>
<rect x="322.16" y="263.80" width="4.84" height="3.30" fill="#0050ff"/>
<rect x="326.70" y="263.80" width="16.19" height="3.30" fill="#00e0ff"/>
<rect x="342.59" y="263.80" width="2.57" height="3.30" fill="#10ffef"/>
<rect x="344.86" y="263.80" width="2.57" height="3.30" fill="#40ffbf"/>
<rect x="347.13" y="263.80" width="2.57" height="3.30" fill="#10ffef"/>
<rect x="349.40" y="263.80" width="2.57" height="3.30" fill="#00e0ff"/>
<rect x="351.67" y="263.80" width="2.57" height="3.30" fill="#10ffef"/>
<rect x="353.94" y="263.80" width="4.84" height="3.30" fill="#a0ff5f"/>
<rect x="358.48" y="263.80" width="2.57" height="3.30" fill="#40ffbf"/>
<rect x="360.75" y="263.80" width="2.57" height="3.30" fill="#00e0ff"/>
<rect x="363.02" y="263.80" width="4.84" height="3.30" fill="#0080ff"/>
<rect x="367.56" y="263.80" width="2.57" height="3.30" fill="#ff1000"/>
<rect x="369.83" y="263.80" width="4.84" height="3.30" fill="#ffd000"/>
<rect x="374.37" y="263.80" width="2.57" height="3.30" fill="#ffff00"/>
<rect x="376.64" y="263.80" width="2.57" height="3.30" fill="#10ffef"/>
<rect x="378.91" y="263.80" width="16.19" height="3.30" fill="#0050ff"/>
<rect x="394.80" y="263.80" width="36.62" height="3.30" fill="#0000cf"/>
<rect x="431.12" y="263.80" width="4.84" height="3.30" fill="#0080ff"/>
<rect x="435.66" y="263.80" width="20.73" height="3.30" fill="#0000ef"/>
<rect x="456.09" y="263.80" width="4.84" height="3.30" fill="#ffff00"/>
<rect x="460.63" y="263.80" width="2.57" height="3.30" fill="#a0ff5f"/>
<rect x="462.90" y="263.80" width="2.57" height="3.30" fill="#00e0ff"/>
<rect x="465.17" y="263.80" width="4.84" height="3.30" fill="#a0ff5f"/>
<rect x="469.71" y="263.80" width="2.57" height="3.30" fill="#00e0ff"/>
<rect x="471.98" y="263.80" width="4.84" height="3.30" fill="#0020ff"/>
<rect x="476.52" y="263.80" width="13.92" height="3.30" fill="#0000ef"/>
<rect x="490.14" y="263.80" width="4.84" height="3.30" fill="#0050ff"/>
<rect x="494.68" y="263.80" width="9.38" height="3.30" fill="#0000ef"/>
<rect x="503.76" y="263.80" width="4.84" height="3.30" fill="#0080ff"/>
<rect x="508.30" y="263.80" width="7.11" height="3.30" fill="#0000ef"/>
<rect x="515.11" y="263.80" width="13.92" height="3.30" fill="#0000cf"/>
<rect x="528.73" y="263.80" width="2.57" height="3.30" fill="#0000ef"/>
<rect x="531.00" y="263.80" width="2.57" height="3.30" fill="#0000cf"/>
<rect x="533.27" y="263.80" width="2.57" height="3.30" fill="#0000ef"/>
<rect x="535.54" y="263.80" width="2.57" height="3.30" fill="#0000cf"/>
<rect x="537.81" y="263.80" width="2.57" height="3.30" fill="#0000ef"/>
<rect x="540.08" y="263.80" width="2.57" height="3.30" fill="#0000cf"/>
<rect x="77.00" y="266.80" width="18.46" height="3.20" fill="#0000cf"/>
<rect x="95.16" y="266.80" width="11.65" height="3.20" fill="#0000ef"/>
<rect x="106.51" y="266.80" width="34.35" height="3.20" fill="#0000cf"/>
<rect x="140.56" y="266.80" width="7.11" height="3.20" fill="#0000ef"/>
<rect x="147.37" y="266.80" width="16.19" height="3.20" fill="#0000cf"/>
<rect x="163.26" y="266.80" width="4.84" height="3.20" fill="#d0ff2f"/>
<rect x="167.80" y="266.80" width="2.57" height="3.20" fill="#00e0ff"/>
<rect x="170.07" y="266.80" width="2.57" height="3.20" fill="#0050ff"/>
<rect x="172.34" y="266.80" width="4.84" height="3.20" fill="#0020ff"/>
<rect x="176.88" y="266.80" width="2.57" height="3.20" fill="#00e0ff"/>
<rect x="179.15" y="266.80" width="2.57" height="3.20" fill="#70ff8f"/>
<rect x="181.42" y="266.80" width="4.84" height="3.20" fill="#ffff00"/>
<rect x="185.96" y="266.80" width="2.57" height="3.20" fill="#d0ff2f"/>
<rect x="188.23" y="266.80" width="7.11" height="3.20" fill="#70ff8f"/>
<rect x="195.04" y="266.80" width="9.38" height="3.20" fill="#40ffbf"/>
<rect x="204.12" y="266.80" width="2.57" height="3.20" fill="#10ffef"/>
<rect x="206.39" y="266.80" width="2.57" height="3.20" fill="#00e0ff"/>
<rect x="208.66" y="266.80" width="2.57" height="3.20" fill="#40ffbf"/>
<rect x="210.93" y="266.80" width="2.57" height="3.20" fill="#70ff8f"/>
<rect x="213.20" y="266.80" width="2.57" height="3.20" fill="#ffd000"/>
<rect x="215.47" y="266.80" width="4.84" height="3.20" fill="#ff4000"/>
<rect x="220.01" y="266.80" width="2.57" height="3.20" fill="#ff7000"/>
<rect x="222.28" y="266.80" width="2.57" height="3.20" fill="#ffd000"/>
<rect x="224.55" y="266.80" width="4.84" height="3.20" fill="#ffff00"/>
<rect x="229.09" y="266.80" width="2.57" height="3.20" fill="#d0ff2f"/>
<rect x="231.36" y="266.80" width="7.11" height="3.20" fill="#a0ff5f"/>
<rect x="238.17" y="266.80" width="4.84" height="3.20" fill="#70ff8f"/>
<rect x="242.71" y="266.80" width="4.84" height="3.20" fill="#40ffbf"/>
<rect x="247.25" y="266.80" width="2.57" height="3.20" fill="#10ffef"/>
<rect x="249.52" y="266.80" width="2.57" height="3.20" fill="#00e0ff"/>
<rect x="251.79" y="266.80" width="20.73" height="3.20" fill="#0080ff"/>
<rect x="272.22" y="266.80" width="2.57" height="3.20" fill="#00b0ff"/>
<rect x="274.49" y="266.80" width="9.38" height="3.20" fill="#00e0ff"/>
<rect x="283.57" y="266.80" width="29.81" height="3.20" fill="#0080ff"/>
<rect x="313.08" y="266.80" width="7.11" height="3.20" fill="#0050ff"/>
<rect x="319.89" y="266.80" width="2.57" height="3.20" fill="#0080ff"/>
<rect x="322.16" y="266.80" width="2.57" height="3.20" fill="#00e0ff"/>
<rect x="324.43" y="266.80" width="2.57" height="3.20" fill="#10ffef"/>
<rect x="326.70" y="266.80" width="16.19" height="3.20" fill="#00e0ff"/>
<rect x="342.59" y="266.80" width="7.11" height="3.20" fill="#10ffef"/>
<rect x="349.40" y="266.80" width="2.57" height="3.20" fill="#00e0ff"/>
<rect x="351.67" y="266.80" width="2.57" height="3.20" fill="#10ffef"/>
<rect x="353.94" y="266.80" width="2.57" height="3.20" fill="#a0ff5f"/>
<rect x="356.21" y="266.80" width="2.57" height="3.20" fill="#ffff00"/>
<rect x="358.48" y="266.80" width="2.57" height="3.20" fill="#ff4000"/>
<rect x="360.75" y="266.80" width="7.11" height="3.20" fill="#9f0000"/>
<rect x="367.56" y="266.80" width="2.57" height="3.20" fill="#ff1000"/>
<rect x="369.83" y="266.80" width="2.57" height="3.20" fill="#ffd000"/>
<rect x="372.10" y="266.80" width="4.84" height="3.20" fill="#ffff00"/>
<rect x="376.64" y="266.80" width="4.84" height="3.20" fill="#a0ff5f"/>
<rect x="381.18" y="266.80" width="4.84" height="3.20" fill="#40ffbf"/>
<rect x="385.72" y="266.80" width="9.38" height="3.20" fill="#a0ff5f"/>
<rect x="394.80" y="266.80" width="2.57" height="3.20" fill="#ffff00"/>
<rect x="397.07" y="266.80" width="2.57" height="3.20" fill="#00e0ff"/>
<rect x="399.34" y="266.80" width="4.84" height="3.20" fill="#0050ff"/>
<rect x="403.88" y="266.80" width="2.57" height="3.20" fill="#ff7000"/>
<rect x="406.15" y="266.80" width="4.84" height="3.20" fill="#0050ff"/>
<rect x="410.69" y="266.80" width="2.57" height="3.20" fill="#00e0ff"/>
<rect x="412.96" y="266.80" width="2.57" height="3.20" fill="#0020ff"/>
<rect x="415.23" y="266.80" width="4.84" height="3.20" fill="#0000ef"/>
<rect x="419.77" y="266.80" width="2.57" height="3.20" fill="#0050ff"/>
<rect x="422.04" y="266.80" width="4.84" height="3.20" fill="#0000ef"/>
<rect x="426.58" y="266.80" width="2.57" height="3.20" fill="#00e0ff"/>
<rect x="428.85" y="266.80" width="2.57" height="3.20" fill="#40ffbf"/>
<rect x="431.12" y="266.80" width="2.57" height="3.20" fill="#a0ff5f"/>
<rect x="433.39" y="266.80" width="2.57" height="3.20" fill="#ffff00"/>
<rect x="435.66" y="266.80" width="2.57" height="3.20" fill="#ffd000"/>
<rect x="437.93" y="266.80" width="4.84" height="3.20" fill="#ffff00"/>
<rect x="442.47" y="266.80" width="2.57" height="3.20" fill="#ffd000"/>
<rect x="444.74" y="266.80" width="2.57" height="3.20" fill="#a0ff5f"/>
<rect x="447.01" y="266.80" width="2.57" height="3.20" fill="#10ffef"/>
<rect x="449.28" y="266.80" width="2.57" height="3.20" fill="#00e0ff"/>
<rect x="451.55" y="266.80" width="2.57" height="3.20" fill="#ffff00"/>
<rect x="453.82" y="266.80" width="2.57" height="3.20" fill="#ff4000"/>
<rect x="456.09" y="266.80" width="4.84" height="3.20" fill="#ffa000"/>
<rect x="460.63" y="266.80" width="7.11" height="3.20" fill="#ff7000"/>
<rect x="467.44" y="266.80" width="2.57" height="3.20" fill="#ffd000"/>
<rect x="469.71" y="266.80" width="2.57" height="3.20" fill="#ffff00"/>
<rect x="471.98" y="266.80" width="2.57" height="3.20" fill="#a0ff5f"/>
<rect x="474.25" y="266.80" width="2.57" height="3.20" fill="#00e0ff"/>
<rect x="476.52" y="266.80" width="4.84" height="3.20" fill="#0050ff"/>
<rect x="481.06" y="266.80" width="2.57" height="3.20" fill="#40ffbf"/>
<rect x="483.33" y="266.80" width="2.57" height="3.20" fill="#a0ff5f"/>
<rect x="485.60" y="266.80" width="4.84" height="3.20" fill="#00b0ff"/>
<rect x="490.14" y="266.80" width="4.84" height="3.20" fill="#00e0ff"/>
<rect x="494.68" y="266.80" width="2.57" height="3.20" fill="#0080ff"/>
<rect x="496.95" y="266.80" width="7.11" height="3.20" fill="#00e0ff"/>
<rect x="503.76" y="266.80" width="4.84" height="3.20" fill="#10ffef"/>
<rect x="508.30" y="266.80" width="4.84" height="3.20" fill="#00b0ff"/>
<rect x="512.84" y="266.80" width="2.57" height="3.20" fill="#0020ff"/>
<rect x="515.11" y="266.80" width="2.57" height="3.20" fill="#0050ff"/>
<rect x="517.38" y="266.80" width="2.57" height="3.20" fill="#0020ff"/>
<rect x="519.65" y="266.80" width="2.57" height="3.20" fill="#0050ff"/>
<rect x="521.92" y="266.80" width="2.57" height="3.20" fill="#0020ff"/>
<rect x="524.19" y="266.80" width="2.57" height="3.20" fill="#0050ff"/>
<rect x="526.46" y="266.80" width="2.57" height="3.20" fill="#0020ff"/>
<rect x="528.73" y="266.80" width="4.84" height="3.20" fill="#0050ff"/>
<rect x="533.27" y="266.80" width="9.38" height="3.20" fill="#0000cf"/>
<rect x="77.00" y="269.70" width="86.56" height="3.30" fill="#0000cf"/>
<rect x="163.26" y="269.70" width="4.84" height="3.30" fill="#d0ff2f"/>
<rect x="167.80" y="269.70" width="2.57" height="3.30" fill="#ff1000"/>
<rect x="170.07" y="269.70" width="2.57" height="3.30" fill="#ff7000"/>
<rect x="172.34" y="269.70" width="2.57" height="3.30" fill="#a0ff5f"/>
<rect x="174.61" y="269.70" width="2.57" height="3.30" fill="#10ffef"/>
<rect x="176.88" y="269.70" width="2.57" height="3.30" fill="#ffa000"/>
<rect x="179.15" y="269.70" width="4.84" height="3.30" fill="#ffff00"/>
<rect x="183.69" y="269.70" width="2.57" height="3.30" fill="#a0ff5f"/>
<rect x="185.96" y="269.70" width="2.57" height="3.30" fill="#70ff8f"/>
<rect x="188.23" y="269.70" width="9.38" height="3.30" fill="#40ffbf"/>
<rect x="197.31" y="269.70" width="2.57" height="3.30" fill="#70ff8f"/>
<rect x="199.58" y="269.70" width="2.57" height="3.30" fill="#40ffbf"/>
<rect x="201.85" y="269.70" width="2.57" height="3.30" fill="#70ff8f"/>
<rect x="204.12" y="269.70" width="2.57" height="3.30" fill="#40ffbf"/>
<rect x="206.39" y="269.70" width="7.11" height="3.30" fill="#70ff8f"/>
<rect x="213.20" y="269.70" width="2.57" height="3.30" fill="#ffa000"/>
<rect x="215.47" y="269.70" width="4.84" height="3.30" fill="#ff4000"/>
<rect x="220.01" y="269.70" width="2.57" height="3.30" fill="#ffa000"/>
<rect x="222.28" y="269.70" width="2.57" height="3.30" fill="#ffd000"/>
<rect x="224.55" y="269.70" width="2.57" height="3.30" fill="#ffff00"/>
<rect x="226.82" y="269.70" width="4.84" height="3.30" fill="#d0ff2f"/>
<rect x="231.36" y="269.70" width="7.11" height="3.30" fill="#a0ff5f"/>
<rect x="238.17" y="269.70" width="2.57" height="3.30" fill="#70ff8f"/>
<rect x="240.44" y="269.70" width="4.84" height="3.30" fill="#40ffbf"/>
<rect x="244.98" y="269.70" width="2.57" height="3.30" fill="#10ffef"/>
<rect x="247.25" y="269.70" width="2.57" height="3.30" fill="#00e0ff"/>
<rect x="249.52" y="269.70" width="23.00" height="3.30" fill="#0080ff"/>
<rect x="272.22" y="269.70" width="11.65" height="3.30" fill="#00e0ff"/>
<rect x="283.57" y="269.70" width="11.65" height="3.30" fill="#0080ff"/>
<rect x="294.92" y="269.70" width="2.57" height="3.30" fill="#0050ff"/>
<rect x="297.19" y="269.70" width="7.11" height="3.30" fill="#0080ff"/>
<rect x="304.00" y="269.70" width="2.57" height="3.30" fill="#0050ff"/>
<rect x="306.27" y="269.70" width="7.11" height="3.30" fill="#0080ff"/>
<rect x="313.08" y="269.70" width="7.11" height="3.30" fill="#0050ff"/>
<rect x="319.89" y="269.70" width="2.57" height="3.30" fill="#0080ff"/>
<rect x="322.16" y="269.70" width="4.84" height="3.30" fill="#10ffef"/>
<rect x="326.70" y="269.70" width="23.00" height="3.30" fill="#00e0ff"/>
<rect x="349.40" y="269.70" width="9.38" height="3.30" fill="#10ffef"/>
<rect x="358.48" y="269.70" width="9.38" height="3.30" fill="#cf0000"/>
<rect x="367.56" y="269.70" width="2.57" height="3.30" fill="#ff1000"/>
<rect x="369.83" y="269.70" width="2.57" height="3.30" fill="#ffd000"/>
<rect x="372.10" y="269.70" width="4.84" height="3.30" fill="#ffff00"/>
<rect x="376.64" y="269.70" width="20.73" height="3.30" fill="#a0ff5f"/>
<rect x="397.07" y="269.70" width="2.57" height="3.30" fill="#ffff00"/>
<rect x="399.34" y="269.70" width="7.11" height="3.30" fill="#ff4000"/>
<rect x="406.15" y="269.70" width="4.84" height="3.30" fill="#ff7000"/>
<rect x="410.69" y="269.70" width="2.57" height="3.30" fill="#a0ff5f"/>
<rect x="412.96" y="269.70" width="4.84" height="3.30" fill="#0050ff"/>
<rect x="417.50" y="269.70" width="7.11" height="3.30" fill="#00e0ff"/>
<rect x="424.31" y="269.70" width="4.84" height="3.30" fill="#10ffef"/>
<rect x="428.85" y="269.70" width="4.84" height="3.30" fill="#a0ff5f"/>
<rect x="433.39" y="269.70" width="2.57" height="3.30" fill="#ffff00"/>
<rect x="435.66" y="269.70" width="2.57" height="3.30" fill="#ffd000"/>
<rect x="437.93" y="269.70" width="4.84" height="3.30" fill="#ffff00"/>
<rect x="442.47" y="269.70" width="2.57" height="3.30" fill="#ffd000"/>
<rect x="444.74" y="269.70" width="4.84" height="3.30" fill="#a0ff5f"/>
<rect x="449.28" y="269.70" width="4.84" height="3.30" fill="#ffff00"/>
<rect x="453.82" y="269.70" width="2.57" height="3.30" fill="#ff4000"/>
<rect x="456.09" y="269.70" width="4.84" height="3.30" fill="#ffa000"/>
<rect x="460.63" y="269.70" width="7.11" height="3.30" fill="#ff7000"/>
<rect x="467.44" y="269.70" width="4.84" height="3.30" fill="#ffff00"/>
<rect x="471.98" y="269.70" width="2.57" height="3.30" fill="#d0ff2f"/>
<rect x="474.25" y="269.70" width="2.57" height="3.30" fill="#a0ff5f"/>
<rect x="476.52" y="269.70" width="7.11" height="3.30" fill="#d0ff2f"/>
<rect x="483.33" y="269.70" width="2.57" height="3.30" fill="#a0ff5f"/>
<rect x="485.60" y="269.70" width="11.65" height="3.30" fill="#10ffef"/>
<rect x="496.95" y="269.70" width="11.65" height="3.30" fill="#70ff8f"/>
<rect x="508.30" y="269.70" width="7.11" height="3.30" fill="#40ffbf"/>
<rect x="515.11" y="269.70" width="4.84" height="3.30" fill="#00e0ff"/>
<rect x="519.65" y="269.70" width="2.57" height="3.30" fill="#00b0ff"/>
<rect x="521.92" y="269.70" width="2.57" height="3.30" fill="#00e0ff"/>
<rect x="524.19" y="269.70" width="2.57" height="3.30" fill="#00b0ff"/>
<rect x="526.46" y="269.70" width="9.38" height="3.30" fill="#0050ff"/>
<rect x="535.54" y="269.70" width="7.11" height="3.30" fill="#0000ef"/>
<rect x="77.00" y="272.70" width="86.56" height="3.20" fill="#0000cf"/>
<rect x="163.26" y="272.70" width="4.84" height="3.20" fill="#10ffef"/>
<rect x="167.80" y="272.70" width="2.57" height="3.20" fill="#ffff00"/>
<rect x="170.07" y="272.70" width="2.57" height="3.20" fill="#ff7000"/>
<rect x="172.34" y="272.70" width="2.57" height="3.20" fill="#ffd000"/>
<rect x="174.61" y="272.70" width="2.57" height="3.20" fill="#ffff00"/>
<rect x="176.88" y="272.70" width="2.57" height="3.20" fill="#d0ff2f"/>
<rect x="179.15" y="272.70" width="2.57" height="3.20" fill="#70ff8f"/>
<rect x="181.42" y="272.70" width="2.57" height="3.20" fill="#10ffef"/>
<rect x="183.69" y="272.70" width="4.84" height="3.20" fill="#00e0ff"/>
<rect x="188.23" y="272.70" width="7.11" height="3.20" fill="#40ffbf"/>
<rect x="195.04" y="272.70" width="9.38" height="3.20" fill="#70ff8f"/>
<rect x="204.12" y="272.70" width="2.57" height="3.20" fill="#40ffbf"/>
<rect x="206.39" y="272.70" width="7.11" height="3.20" fill="#70ff8f"/>
<rect x="213.20" y="272.70" width="7.11" height="3.20" fill="#ff7000"/>
<rect x="220.01" y="272.70" width="2.57" height="3.20" fill="#ffa000"/>
<rect x="222.28" y="272.70" width="2.57" height="3.20" fill="#ffd000"/>
<rect x="224.55" y="272.70" width="2.57" height="3.20" fill="#ffff00"/>
<rect x="226.82" y="272.70" width="4.84" height="3.20" fill="#d0ff2f"/>
<rect x="231.36" y="272.70" width="4.84" height="3.20" fill="#a0ff5f"/>
<rect x="235.90" y="272.70" width="7.11" height="3.20" fill="#40ffbf"/>
<rect x="242.71" y="272.70" width="4.84" height="3.20" fill="#00e0ff"/>
<rect x="247.25" y="272.70" width="4.84" height="3.20" fill="#0080ff"/>
<rect x="251.79" y="272.70" width="9.38" height="3.20" fill="#0050ff"/>
<rect x="260.87" y="272.70" width="11.65" height="3.20" fill="#0080ff"/>
<rect x="272.22" y="272.70" width="11.65" height="3.20" fill="#00e0ff"/>
<rect x="283.57" y="272.70" width="36.62" height="3.20" fill="#0050ff"/>
<rect x="319.89" y="272.70" width="2.57" height="3.20" fill="#0080ff"/>
<rect x="322.16" y="272.70" width="4.84" height="3.20" fill="#10ffef"/>
<rect x="326.70" y="272.70" width="23.00" height="3.20" fill="#00e0ff"/>
<rect x="349.40" y="272.70" width="9.38" height="3.20" fill="#10ffef"/>
<rect x="358.48" y="272.70" width="9.38" height="3.20" fill="#cf0000"/>
<rect x="367.56" y="272.70" width="2.57" height="3.20" fill="#ff1000"/>
<rect x="369.83" y="272.70" width="2.57" height="3.20" fill="#ffd000"/>
<rect x="372.10" y="272.70" width="4.84" height="3.20" fill="#ffff00"/>
<rect x="376.64" y="272.70" width="20.73" height="3.20" fill="#a0ff5f"/>
<rect x="397.07" y="272.70" width="2.57" height="3.20" fill="#ffff00"/>
<rect x="399.34" y="272.70" width="7.11" height="3.20" fill="#ff4000"/>
<rect x="406.15" y="272.70" width="4.84" height="3.20" fill="#ff7000"/>
<rect x="410.69" y="272.70" width="2.57" height="3.20" fill="#a0ff5f"/>
<rect x="412.96" y="272.70" width="2.57" height="3.20" fill="#0050ff"/>
<rect x="415.23" y="272.70" width="13.92" height="3.20" fill="#10ffef"/>
<rect x="428.85" y="272.70" width="4.84" height="3.20" fill="#a0ff5f"/>
<rect x="433.39" y="272.70" width="2.57" height="3.20" fill="#ffff00"/>
<rect x="435.66" y="272.70" width="2.57" height="3.20" fill="#ffd000"/>
<rect x="437.93" y="272.70" width="4.84" height="3.20" fill="#ffff00"/>
<rect x="442.47" y="272.70" width="2.57" height="3.20" fill="#ffd000"/>
<rect x="444.74" y="272.70" width="4.84" height="3.20" fill="#a0ff5f"/>
<rect x="449.28" y="272.70" width="4.84" height="3.20" fill="#ffff00"/>
<rect x="453.82" y="272.70" width="2.57" height="3.20" fill="#ff4000"/>
<rect x="456.09" y="272.70" width="4.84" height="3.20" fill="#ffa000"/>
<rect x="460.63" y="272.70" width="7.11" height="3.20" fill="#ff7000"/>
<rect x="467.44" y="272.70" width="4.84" height="3.20" fill="#ffff00"/>
<rect x="471.98" y="272.70" width="2.57" height="3.20" fill="#d0ff2f"/>
<rect x="474.25" y="272.70" width="2.57" height="3.20" fill="#a0ff5f"/>
<rect x="476.52" y="272.70" width="7.11" height="3.20" fill="#d0ff2f"/>
<rect x="483.33" y="272.70" width="2.57" height="3.20" fill="#a0ff5f"/>
<rect x="485.60" y="272.70" width="11.65" height="3.20" fill="#10ffef"/>
<rect x="496.95" y="272.70" width="4.84" height="3.20" fill="#a0ff5f"/>
<rect x="501.49" y="272.70" width="13.92" height="3.20" fill="#70ff8f"/>
<rect x="515.11" y="272.70" width="2.57" height="3.20" fill="#40ffbf"/>
<rect x="517.38" y="272.70" width="2.57" height="3.20" fill="#70ff8f"/>
<rect x="519.65" y="272.70" width="2.57" height="3.20" fill="#40ffbf"/>
<rect x="521.92" y="272.70" width="4.84" height="3.20" fill="#70ff8f"/>
<rect x="526.46" y="272.70" width="2.57" height="3.20" fill="#10ffef"/>
<rect x="528.73" y="272.70" width="2.57" height="3.20" fill="#40ffbf"/>
<rect x="531.00" y="272.70" width="2.57" height="3.20" fill="#10ffef"/>
<rect x="533.27" y="272.70" width="2.57" height="3.20" fill="#40ffbf"/>
<rect x="535.54" y="272.70" width="7.11" height="3.20" fill="#10ffef"/>
<rect x="77.00" y="275.60" width="86.56" height="3.30" fill="#0000cf"/>
<rect x="163.26" y="275.60" width="4.84" height="3.30" fill="#0050ff"/>
<rect x="167.80" y="275.60" width="2.57" height="3.30" fill="#70ff8f"/>
<rect x="170.07" y="275.60" width="2.57" height="3.30" fill="#ffff00"/>
<rect x="172.34" y="275.60" width="2.57" height="3.30" fill="#ffd000"/>
<rect x="174.61" y="275.60" width="2.57" height="3.30" fill="#ffff00"/>
<rect x="176.88" y="275.60" width="2.57" height="3.30" fill="#00e0ff"/>
<rect x="179.15" y="275.60" width="4.84" height="3.30" fill="#00b0ff"/>
<rect x="183.69" y="275.60" width="4.84" height="3.30" fill="#0080ff"/>
<rect x="188.23" y="275.60" width="7.11" height="3.30" fill="#40ffbf"/>
<rect x="195.04" y="275.60" width="7.11" height="3.30" fill="#70ff8f"/>
<rect x="201.85" y="275.60" width="4.84" height="3.30" fill="#40ffbf"/>
<rect x="206.39" y="275.60" width="7.11" height="3.30" fill="#70ff8f"/>
<rect x="213.20" y="275.60" width="7.11" height="3.30" fill="#ff7000"/>
<rect x="220.01" y="275.60" width="2.57" height="3.30" fill="#ffa000"/>
<rect x="222.28" y="275.60" width="2.57" height="3.30" fill="#ffd000"/>
<rect x="226.82" y="275.60" width="4.84" height="3.30" fill="#d0ff2f"/>
<rect x="231.36" y="275.60" width="4.84" height="3.30" fill="#a0ff5f"/>
<rect x="235.90" y="275.60" width="7.11" height="3.30" fill="#40ffbf"/>
<rect x="242.71" y="275.60" width="4.84" height="3.30" fill="#00e0ff"/>
<rect x="247.25" y="275.60" width="4.84" height="3.30" fill="#0080ff"/>
<rect x="251.79" y="275.60" width="9.38" height="3.30" fill="#0050ff"/>
<rect x="260.87" y="275.60" width="11.65" height="3.30" fill="#0080ff"/>
<rect x="272.22" y="275.60" width="11.65" height="3.30" fill="#00e0ff"/>
<rect x="283.57" y="275.60" width="36.62" height="3.30" fill="#0050ff"/>
<rect x="319.89" y="275.60" width="2.57" height="3.30" fill="#0080ff"/>
<rect x="322.16" y="275.60" width="4.84" height="3.30" fill="#10ffef"/>
<rect x="326.70" y="275.60" width="23.00" height="3.30" fill="#00e0ff"/>
<rect x="349.40" y="275.60" width="9.38" height="3.30" fill="#10ffef"/>
<rect x="358.48" y="275.60" width="9.38" height="3.30" fill="#cf0000"/>
<rect x="376.64" y="275.60" width="20.73" height="3.30" fill="#a0ff5f"/>
<rect x="397.07" y="275.60" width="2.57" height="3.30" fill="#ffff00"/>
<rect x="399.34" y="275.60" width="7.11" height="3.30" fill="#ff4000"/>
<rect x="406.15" y="275.60" width="4.84" height="3.30" fill="#ff7000"/>
<rect x="410.69" y="275.60" width="2.57" height="3.30" fill="#a0ff5f"/>
<rect x="412.96" y="275.60" width="2.57" height="3.30" fill="#0050ff"/>
<rect x="415.23" y="275.60" width="7.11" height="3.30" fill="#40ffbf"/>
<rect x="422.04" y="275.60" width="7.11" height="3.30" fill="#10ffef"/>
<rect x="428.85" y="275.60" width="4.84" height="3.30" fill="#a0ff5f"/>
<rect x="433.39" y="275.60" width="2.57" height="3.30" fill="#ffff00"/>
<rect x="435.66" y="275.60" width="2.57" height="3.30" fill="#ffd000"/>
<rect x="437.93" y="275.60" width="4.84" height="3.30" fill="#ffff00"/>
<rect x="442.47" y="275.60" width="2.57" height="3.30" fill="#ffd000"/>
<rect x="444.74" y="275.60" width="4.84" height="3.30" fill="#a0ff5f"/>
<rect x="449.28" y="275.60" width="4.84" height="3.30" fill="#ffff00"/>
<rect x="453.82" y="275.60" width="2.57" height="3.30" fill="#ff4000"/>
<rect x="456.09" y="275.60" width="4.84" height="3.30" fill="#ffa000"/>
<rect x="460.63" y="275.60" width="7.11" height="3.30" fill="#ff7000"/>
<rect x="467.44" y="275.60" width="4.84" height="3.30" fill="#ffff00"/>
<rect x="471.98" y="275.60" width="2.57" height="3.30" fill="#d0ff2f"/>
<rect x="474.25" y="275.60" width="2.57" height="3.30" fill="#a0ff5f"/>
<rect x="476.52" y="275.60" width="7.11" height="3.30" fill="#d0ff2f"/>
<rect x="483.33" y="275.60" width="2.57" height="3.30" fill="#a0ff5f"/>
<rect x="485.60" y="275.60" width="11.65" height="3.30" fill="#10ffef"/>
<rect x="496.95" y="275.60" width="4.84" height="3.30" fill="#a0ff5f"/>
<rect x="501.49" y="275.60" width="41.16" height="3.30" fill="#70ff8f"/>
<rect x="163.26" y="278.60" width="4.84" height="3.30" fill="#0000ef"/>
<rect x="167.80" y="278.60" width="2.57" height="3.30" fill="#00e0ff"/>
<rect x="170.07" y="278.60" width="2.57" height="3.30" fill="#a0ff5f"/>
<rect x="172.34" y="278.60" width="4.84" height="3.30" fill="#70ff8f"/>
<rect x="176.88" y="278.60" width="11.65" height="3.30" fill="#0050ff"/>
<rect x="195.04" y="278.60" width="7.11" height="3.30" fill="#70ff8f"/>
<rect x="201.85" y="278.60" width="4.84" height="3.30" fill="#40ffbf"/>
<rect x="206.39" y="278.60" width="2.57" height="3.30" fill="#70ff8f"/>
<rect x="213.20" y="278.60" width="7.11" height="3.30" fill="#ff7000"/>
<rect x="235.90" y="278.60" width="7.11" height="3.30" fill="#40ffbf"/>
<rect x="242.71" y="278.60" width="4.84" height="3.30" fill="#00e0ff"/>
<rect x="247.25" y="278.60" width="4.84" height="3.30" fill="#0080ff"/>
<rect x="251.79" y="278.60" width="9.38" height="3.30" fill="#0050ff"/>
<rect x="260.87" y="278.60" width="11.65" height="3.30" fill="#0080ff"/>
<rect x="283.57" y="278.60" width="29.81" height="3.30" fill="#0050ff"/>
<rect x="322.16" y="278.60" width="4.84" height="3.30" fill="#10ffef"/>
<rect x="331.24" y="278.60" width="18.46" height="3.30" fill="#00e0ff"/>
<rect x="349.40" y="278.60" width="9.38" height="3.30" fill="#10ffef"/>
<rect x="376.64" y="278.60" width="20.73" height="3.30" fill="#a0ff5f"/>
<rect x="397.07" y="278.60" width="2.57" height="3.30" fill="#ffff00"/>
<rect x="399.34" y="278.60" width="7.11" height="3.30" fill="#ff4000"/>
<rect x="406.15" y="278.60" width="4.84" height="3.30" fill="#ff7000"/>
<rect x="410.69" y="278.60" width="2.57" height="3.30" fill="#a0ff5f"/>
<rect x="412.96" y="278.60" width="2.57" height="3.30" fill="#0050ff"/>
<rect x="415.23" y="278.60" width="2.57" height="3.30" fill="#40ffbf"/>
<rect x="417.50" y="278.60" width="4.84" height="3.30" fill="#70ff8f"/>
<rect x="422.04" y="278.60" width="2.57" height="3.30" fill="#40ffbf"/>
<rect x="424.31" y="278.60" width="4.84" height="3.30" fill="#10ffef"/>
<rect x="428.85" y="278.60" width="4.84" height="3.30" fill="#a0ff5f"/>
<rect x="460.63" y="278.60" width="7.11" height="3.30" fill="#ff7000"/>
<rect x="467.44" y="278.60" width="4.84" height="3.30" fill="#ffff00"/>
<rect x="471.98" y="278.60" width="2.57" height="3.30" fill="#d0ff2f"/>
<rect x="474.25" y="278.60" width="2.57" height="3.30" fill="#a0ff5f"/>
<rect x="476.52" y="278.60" width="7.11" height="3.30" fill="#d0ff2f"/>
<rect x="483.33" y="278.60" width="2.57" height="3.30" fill="#a0ff5f"/>
<rect x="485.60" y="278.60" width="11.65" height="3.30" fill="#10ffef"/>
<rect x="496.95" y="278.60" width="4.84" height="3.30" fill="#a0ff5f"/>
<rect x="501.49" y="278.60" width="41.16" height="3.30" fill="#70ff8f"/>
<rect x="163.26" y="281.60" width="4.84" height="3.20" fill="#0000cf"/>
<rect x="167.80" y="281.60" width="2.57" height="3.20" fill="#0020ff"/>
<rect x="170.07" y="281.60" width="7.11" height="3.20" fill="#0050ff"/>
<rect x="176.88" y="281.60" width="4.84" height="3.20" fill="#0000ef"/>
<rect x="181.42" y="281.60" width="4.84" height="3.20" fill="#0020ff"/>
<rect x="185.96" y="281.60" width="2.57" height="3.20" fill="#0050ff"/>
<rect x="195.04" y="281.60" width="7.11" height="3.20" fill="#70ff8f"/>
<rect x="201.85" y="281.60" width="2.57" height="3.20" fill="#40ffbf"/>
<rect x="242.71" y="281.60" width="4.84" height="3.20" fill="#00e0ff"/>
<rect x="251.79" y="281.60" width="9.38" height="3.20" fill="#0050ff"/>
<rect x="285.84" y="281.60" width="25.27" height="3.20" fill="#0050ff"/>
<rect x="338.05" y="281.60" width="9.38" height="3.20" fill="#00e0ff"/>
<rect x="415.23" y="281.60" width="2.57" height="3.20" fill="#40ffbf"/>
<rect x="417.50" y="281.60" width="4.84" height="3.20" fill="#70ff8f"/>
<rect x="422.04" y="281.60" width="2.57" height="3.20" fill="#40ffbf"/>
<rect x="496.95" y="281.60" width="4.84" height="3.20" fill="#a0ff5f"/>
<rect x="501.49" y="281.60" width="41.16" height="3.20" fill="#70ff8f"/>
<rect x="163.26" y="284.50" width="7.11" height="3.30" fill="#0000af"/>
<rect x="170.07" y="284.50" width="13.92" height="3.30" fill="#0000cf"/>
<rect x="183.69" y="284.50" width="2.57" height="3.30" fill="#0020ff"/>
<rect x="185.96" y="284.50" width="2.57" height="3.30" fill="#0050ff"/>
<rect x="195.04" y="284.50" width="7.11" height="3.30" fill="#70ff8f"/>
<rect x="415.23" y="284.50" width="2.57" height="3.30" fill="#40ffbf"/>
<rect x="417.50" y="284.50" width="4.84" height="3.30" fill="#70ff8f"/>
<rect x="422.04" y="284.50" width="2.57" height="3.30" fill="#40ffbf"/>
<rect x="515.11" y="284.50" width="27.54" height="3.30" fill="#70ff8f"/>
<rect x="163.26" y="287.50" width="9.38" height="3.20" fill="#00008f"/>
<rect x="172.34" y="287.50" width="9.38" height="3.20" fill="#0000af"/>
<rect x="181.42" y="287.50" width="2.57" height="3.20" fill="#0000cf"/>
<rect x="183.69" y="287.50" width="2.57" height="3.20" fill="#0020ff"/>
<rect x="417.50" y="287.50" width="4.84" height="3.20" fill="#70ff8f"/>
<rect x="163.26" y="290.40" width="13.92" height="3.30" fill="#00008f"/>
<rect x="176.88" y="290.40" width="4.84" height="3.30" fill="#0000af"/>
<rect x="181.42" y="290.40" width="2.57" height="3.30" fill="#0000cf"/>
<rect x="163.26" y="293.40" width="13.92" height="3.30" fill="#00008f"/>
<rect x="176.88" y="293.40" width="4.84" height="3.30" fill="#0000af"/>
<rect x="163.26" y="296.40" width="13.92" height="3.20" fill="#00008f"/>
</g>
</g>
<g shape-rendering="crispEdges">
<rect x="80" y="253" width="1" height="1" fill="#fff"/>
<rect x="80" y="258" width="1" height="1" fill="#fff"/>
<rect x="116" y="256" width="1" height="1" fill="#fff"/>
<rect x="122" y="256" width="1" height="1" fill="#fff"/>
<rect x="116" y="251" width="1" height="1" fill="#fff"/>
<rect x="164" y="255" width="1" height="1" fill="#fff"/>
<rect x="166" y="260" width="1" height="1" fill="#fff"/>
<rect x="170" y="259" width="1" height="1" fill="#fff"/>
<rect x="171" y="263" width="1" height="1" fill="#fff"/>
<rect x="153" y="255" width="1" height="1" fill="#fff"/>
<rect x="254" y="255" width="1" height="1" fill="#fff"/>
<rect x="254" y="251" width="1" height="1" fill="#fff"/>
<rect x="288" y="259" width="1" height="1" fill="#fff"/>
<rect x="343" y="260" width="1" height="1" fill="#fff"/>
<rect x="503" y="253" width="1" height="1" fill="#fff"/>
<rect x="503" y="257" width="1" height="1" fill="#fff"/>
<rect x="503" y="261" width="1" height="1" fill="#fff"/>
<rect x="511" y="256" width="1" height="1" fill="#fff"/>
<rect x="511" y="264" width="1" height="1" fill="#fff"/>
<rect x="511" y="267" width="1" height="1" fill="#fff"/>
<rect x="497" y="251" width="1" height="1" fill="#fff"/>
<rect x="519" y="251" width="1" height="1" fill="#fff"/>
<rect x="523" y="251" width="1" height="1" fill="#fff"/>
<rect x="153" y="257" width="1" height="14" fill="#fff"/>
<rect x="163" y="252" width="1" height="36" fill="#fff"/>
<rect x="166" y="277" width="1" height="9" fill="#fff"/>
</g>
<g shape-rendering="crispEdges">
<rect x="78" y="39" width="1" height="18" fill="#fff"/>
<rect x="542" y="57" width="1" height="9" fill="#fff"/>
<rect x="77" y="38" width="466" height="1" fill="#000048"/>
<path d="M77.5 38V188.5H543.5V38" class="ax"/>
<text x="76.5" y="204.5" class="t" text-anchor="middle">0</text>
<line x1="123.5" y1="188" x2="123.5" y2="183" class="ax"/>
<text x="122.5" y="204.5" class="t" text-anchor="middle">20</text>
<line x1="168.5" y1="188" x2="168.5" y2="183" class="ax"/>
<text x="167.5" y="204.5" class="t" text-anchor="middle">40</text>
<line x1="214.5" y1="188" x2="214.5" y2="183" class="ax"/>
<text x="213.5" y="204.5" class="t" text-anchor="middle">60</text>
<line x1="259.5" y1="188" x2="259.5" y2="183" class="ax"/>
<text x="258.5" y="204.5" class="t" text-anchor="middle">80</text>
<line x1="304.5" y1="188" x2="304.5" y2="183" class="ax"/>
<text x="303.5" y="204.5" class="t" text-anchor="middle">100</text>
<line x1="350.5" y1="188" x2="350.5" y2="183" class="ax"/>
<text x="349.5" y="204.5" class="t" text-anchor="middle">120</text>
<line x1="395.5" y1="188" x2="395.5" y2="183" class="ax"/>
<text x="394.5" y="204.5" class="t" text-anchor="middle">140</text>
<line x1="441.5" y1="188" x2="441.5" y2="183" class="ax"/>
<text x="440.5" y="204.5" class="t" text-anchor="middle">160</text>
<line x1="486.5" y1="188" x2="486.5" y2="183" class="ax"/>
<text x="485.5" y="204.5" class="t" text-anchor="middle">180</text>
<line x1="531.5" y1="188" x2="531.5" y2="183" class="ax"/>
<text x="530.5" y="204.5" class="t" text-anchor="middle">200</text>
<text x="74" y="42.7" class="t" text-anchor="end">0</text>
<line x1="77" y1="75.5" x2="83" y2="75.5" class="ax"/>
<line x1="543" y1="75.5" x2="538" y2="75.5" class="ax"/>
<text x="74" y="79.7" class="t" text-anchor="end">50</text>
<line x1="77" y1="112.5" x2="83" y2="112.5" class="ax"/>
<line x1="543" y1="112.5" x2="538" y2="112.5" class="ax"/>
<text x="74" y="116.7" class="t" text-anchor="end">100</text>
<line x1="77" y1="149.5" x2="83" y2="149.5" class="ax"/>
<line x1="543" y1="149.5" x2="538" y2="149.5" class="ax"/>
<text x="74" y="153.7" class="t" text-anchor="end">150</text>
<line x1="77" y1="186.5" x2="83" y2="186.5" class="ax"/>
<line x1="543" y1="186.5" x2="538" y2="186.5" class="ax"/>
<text x="74" y="190.7" class="t" text-anchor="end">200</text>
<text transform="translate(44.9 115) rotate(-90)" class="yl" text-anchor="middle" textLength="62" lengthAdjust="spacingAndGlyphs">Depth, (m)</text>
<rect x="543" y="39" width="1" height="18" fill="#000078"/>
<path d="M77.5 268V401.5H544" class="ax"/>
<text x="76.5" y="417.5" class="t" text-anchor="middle">0</text>
<line x1="123.5" y1="401" x2="123.5" y2="396" class="ax"/>
<text x="122.5" y="417.5" class="t" text-anchor="middle">20</text>
<line x1="168.5" y1="401" x2="168.5" y2="396" class="ax"/>
<text x="167.5" y="417.5" class="t" text-anchor="middle">40</text>
<line x1="214.5" y1="401" x2="214.5" y2="396" class="ax"/>
<text x="213.5" y="417.5" class="t" text-anchor="middle">60</text>
<line x1="259.5" y1="401" x2="259.5" y2="396" class="ax"/>
<text x="258.5" y="417.5" class="t" text-anchor="middle">80</text>
<line x1="304.5" y1="401" x2="304.5" y2="396" class="ax"/>
<text x="303.5" y="417.5" class="t" text-anchor="middle">100</text>
<line x1="350.5" y1="401" x2="350.5" y2="396" class="ax"/>
<text x="349.5" y="417.5" class="t" text-anchor="middle">120</text>
<line x1="395.5" y1="401" x2="395.5" y2="396" class="ax"/>
<text x="394.5" y="417.5" class="t" text-anchor="middle">140</text>
<line x1="441.5" y1="401" x2="441.5" y2="396" class="ax"/>
<text x="440.5" y="417.5" class="t" text-anchor="middle">160</text>
<line x1="486.5" y1="401" x2="486.5" y2="396" class="ax"/>
<text x="485.5" y="417.5" class="t" text-anchor="middle">180</text>
<line x1="531.5" y1="401" x2="531.5" y2="396" class="ax"/>
<text x="530.5" y="417.5" class="t" text-anchor="middle">200</text>
<text x="74" y="256.5" class="t" text-anchor="end">0</text>
<line x1="77" y1="288.5" x2="83" y2="288.5" class="ax"/>
<text x="74" y="292.7" class="t" text-anchor="end">50</text>
<line x1="77" y1="325.5" x2="83" y2="325.5" class="ax"/>
<text x="74" y="329.7" class="t" text-anchor="end">100</text>
<line x1="77" y1="362.5" x2="83" y2="362.5" class="ax"/>
<text x="74" y="366.7" class="t" text-anchor="end">150</text>
<line x1="77" y1="399.5" x2="83" y2="399.5" class="ax"/>
<text x="74" y="403.7" class="t" text-anchor="end">200</text>
<text transform="translate(44.9 328) rotate(-90)" class="yl" text-anchor="middle" textLength="62" lengthAdjust="spacingAndGlyphs">Depth, (m)</text>
</g>
<text x="310" y="26.8" class="h" text-anchor="middle" textLength="295" lengthAdjust="spacingAndGlyphs">Chlor: Gridded data (1km x 4m) (pcolor plot)</text>
<text x="310" y="240.6" class="h" text-anchor="middle" textLength="366" lengthAdjust="spacingAndGlyphs">Chlor: Full data set (scatter plot, every 10th point used)</text>
<text x="309" y="435" class="l" text-anchor="middle" textLength="92" lengthAdjust="spacingAndGlyphs">Distance, (km)</text>
</svg>
</body></html>
